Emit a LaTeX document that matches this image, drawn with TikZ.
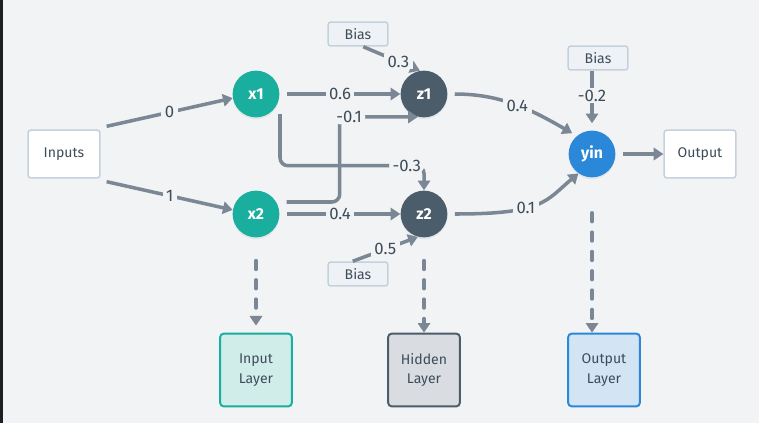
\documentclass[tikz,border=0pt]{standalone}
\usepackage{fontspec}
\setmainfont{Fira Sans}
\usetikzlibrary{arrows.meta,shadows}

\definecolor{bgc}{HTML}{F1F3F5}
\definecolor{strip}{HTML}{1E1F22}
\definecolor{txt}{HTML}{3E4C59}
\definecolor{wirec}{HTML}{7B8794}
\definecolor{boxline}{HTML}{C5D1DC}
\definecolor{biasfill}{HTML}{EEF2F6}
\definecolor{inteal}{HTML}{1AAE9F}
\definecolor{infill}{HTML}{D1EDEA}
\definecolor{hid}{HTML}{4B5C6B}
\definecolor{hidfill}{HTML}{D9DDE1}
\definecolor{outblue}{HTML}{2B88D8}
\definecolor{outfill}{HTML}{D3E5F5}

\begin{document}
\begin{tikzpicture}[
      x=0.02cm, y=0.02cm,
      neuron/.style={circle, minimum size=26.6pt, inner sep=0pt, text=white, font=\fontsize{9}{10}\selectfont\bfseries, drop shadow={opacity=0.12, shadow xshift=0pt, shadow yshift=-1pt}},
      box/.style={rectangle, draw=boxline, line width=0.9pt, fill=white, rounded corners=1.5pt, minimum width=40.8pt, minimum height=27.2pt, text=txt, font=\fontsize{8}{9.6}\selectfont},
      biasbox/.style={box, fill=biasfill, minimum width=34pt, minimum height=13.6pt},
      layer/.style={rectangle, line width=1.1pt, rounded corners=2pt, minimum width=40.8pt, minimum height=41.4pt, align=center, text=txt, font=\fontsize{8}{11.3}\selectfont},
      wire/.style={draw=wirec, line width=2pt, -{Triangle[length=5.5pt,width=7pt]}},
      guide/.style={wire, line cap=round, dash pattern=on 5pt off 6pt},
      wlabel/.style={fill=bgc, inner xsep=2pt, inner ysep=1pt, text=txt, font=\fontsize{9.5}{11}\selectfont}
    ]
      \fill[bgc] (0,0) rectangle (759,-423);
      \fill[strip] (0,0) rectangle (3,-423);
      \useasboundingbox (0,0) rectangle (759,-423);

      % Neurons
      \node[box] (inputs) at (64,-154) {Inputs};
      \node[neuron, fill=inteal] (x1) at (256,-94) {x1};
      \node[neuron, fill=inteal] (x2) at (256,-214) {x2};
      \node[neuron, fill=hid] (z1) at (424,-94) {z1};
      \node[neuron, fill=hid] (z2) at (424,-214) {z2};
      \node[neuron, fill=outblue] (yin) at (592,-154) {yin};
      \node[box] (output) at (700,-154) {Output};

      % Bias boxes
      \node[biasbox] (bias1) at (358,-34) {Bias};
      \node[biasbox] (bias2) at (358,-274) {Bias};
      \node[biasbox] (bias3) at (598,-58) {Bias};

      % Layer legend
      \node[layer, draw=inteal, fill=infill] (inlayer) at (256,-370) {Input\\Layer};
      \node[layer, draw=hid, fill=hidfill] (hidlayer) at (424,-370) {Hidden\\Layer};
      \node[layer, draw=outblue, fill=outfill] (outlayer) at (604,-370) {Output\\Layer};

      % Inputs to input layer
      \draw[wire] ([shift={(6,3)}]inputs.north east) -- node[wlabel]{0} (x1.190);
      \draw[wire] ([shift={(6,-3)}]inputs.south east) -- node[wlabel]{1} (x2.170);

      % Input layer to hidden layer
      \draw[wire, shorten <=4pt] (x1.east) -- node[wlabel]{0.6} (z1.west);
      \draw[wire, shorten <=4pt] (x2.east) -- node[wlabel]{0.4} (z2.west);
      \draw[wire, rounded corners=4.5pt] ([shift={(7,12)}]x2.east) -- ++(53,0) |- node[wlabel, pos=0.56]{-0.1} (z1.-105);
      \draw[wire, rounded corners=4.5pt] ([shift={(24,-20)}]x1.center) |- node[wlabel, pos=0.94]{-0.3} ([yshift=14pt]z2.north) -- (z2.north);
      \draw[wire] ([xshift=3pt]bias1.south) -- node[wlabel, pos=0.62]{0.3} (z1.100);
      \draw[wire] ([xshift=-3pt]bias2.north) -- node[wlabel]{0.5} (z2.-105);

      % Hidden layer to output
      \draw[wire, shorten <=4pt, shorten >=3pt] (z1.east) to[out=0, in=150] node[wlabel, pos=0.52]{0.4} (yin.130);
      \draw[wire, shorten <=4pt] (z2.east) to[out=0, in=-140, out looseness=1.8, in looseness=0.8] node[wlabel, pos=0.4]{0.1} (yin.-125);
      \draw[wire, shorten >=4pt] (bias3.south -| yin) -- node[wlabel, pos=0.42]{-0.2} (yin.north);
      \draw[wire, shorten <=4pt] (yin.east) -- (output.west);

      % Legend guides
      \draw[guide, shorten <=13pt, shorten >=4pt] (x2.south) -- (inlayer.north);
      \draw[guide, shorten <=13pt] (z2.south) -- (hidlayer.north);
      \draw[guide, shorten <=20pt] (yin.south) -- (yin.south |- outlayer.north);
    \end{tikzpicture}
\end{document}
